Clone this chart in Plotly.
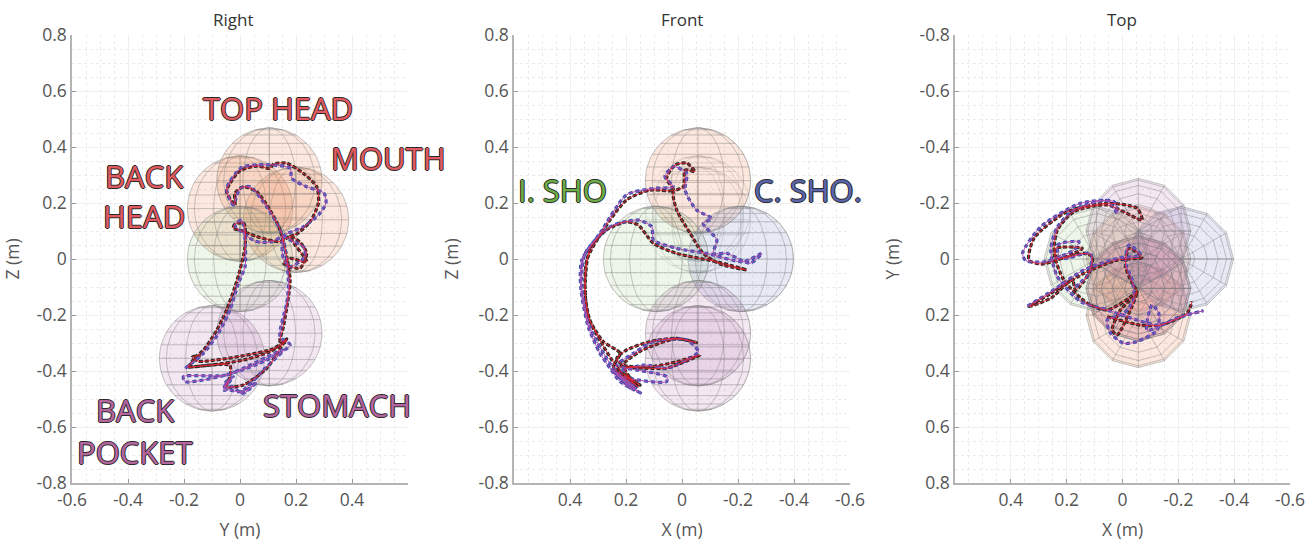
import numpy as np
import plotly.graph_objects as go

# ---- tick labels -----------------------------------------------------------
H_TICKS_RIGHT = [-0.6, -0.4, -0.2, 0, 0.2, 0.4]
H_LABELS_RIGHT = ["-0.6", "-0.4", "-0.2", "0", "0.2", "0.4"]
H_TICKS_REV = [0.4, 0.2, 0, -0.2, -0.4, -0.6]
H_LABELS_REV = ["0.4", "0.2", "0", "-0.2", "-0.4", "-0.6"]
V_TICKS = [-0.8, -0.6, -0.4, -0.2, 0, 0.2, 0.4, 0.6, 0.8]
V_LABELS = ["-0.8", "-0.6", "-0.4", "-0.2", "0", "0.2", "0.4", "0.6", "0.8"]

# ---- spheres (centre X, Y, Z in metres, radius) ----------------------------
SPHERE_NAMES = ["back_head", "mouth", "top_head", "i_sho", "c_sho", "back_pocket", "stomach"]
SPHERE_X = [-0.057, -0.057, -0.057, 0.093, -0.21, -0.057, -0.057]
SPHERE_Y = [0.0, 0.2, 0.105, 0.0, 0.0, -0.1, 0.105]
SPHERE_Z = [0.18, 0.14, 0.28, 0.0, 0.0, -0.355, -0.265]
SPHERE_R = 0.188
SPHERE_KIND = ["orange", "orange", "orange", "green", "blue", "purple", "purple"]

# ---- trajectories, Right view (Y, Z) ---------------------------------------
R_BLACK_H = [-0.185,-0.16,-0.13,-0.083,-0.048,-0.018,0.0,0.018,0.014,-0.018,-0.024,0.006,0.06,0.143,
             0.179,0.214,0.238,0.214,0.155,0.179,0.238,0.179,0.202,0.25,0.28,0.274,0.226,0.167,0.119,0.107,0.06,0.0,-0.036,-0.048,
             -0.018,-0.018,0.012,0.06,0.107,0.143,0.167,0.179,0.173,0.155,0.143,0.167,0.107,0.012,-0.107,-0.185,
             -0.036,-0.036,-0.048,0.012,0.095,0.155,0.167,0.12,-0.15,-0.17,-0.14]
R_BLACK_V = [-0.387,-0.351,-0.325,-0.254,-0.182,-0.099,-0.039,0.044,0.127,0.125,0.11,0.101,0.08,0.062,
             0.08,0.06,0.02,-0.033,-0.015,0.002,-0.01,0.08,0.089,0.133,0.199,0.258,0.306,0.342,0.339,0.324,0.332,0.315,0.27,0.24,
             0.193,0.235,0.258,0.24,0.175,0.104,0.008,-0.075,-0.135,-0.242,-0.295,-0.292,-0.331,-0.361,-0.379,-0.387,
             -0.38,-0.42,-0.456,-0.45,-0.391,-0.301,-0.285,-0.32,-0.365,-0.35,-0.345]
R_BLUE_H = [-0.196,-0.131,-0.077,-0.036,-0.006,0.018,0.018,0.006,-0.018,0.054,0.107,0.155,
            0.179,0.226,0.232,0.179,0.155,0.155,0.226,0.28,0.307,0.3,0.238,0.185,0.179,0.119,0.06,0.006,-0.048,
            -0.024,0.0,0.036,0.095,0.149,0.167,0.173,0.167,0.143,0.179,0.095,-0.048,-0.196,-0.202,-0.048,
            0.155,0.095,0.012,-0.006,-0.048,-0.054,-0.024,-0.06,-0.04,-0.055,-0.03,0.01,0.06,0.02,-0.002]
R_BLUE_V = [-0.39,-0.337,-0.265,-0.182,-0.087,-0.027,0.068,0.139,0.121,0.064,0.06,0.08,
            0.068,0.044,0.008,-0.027,0.002,0.08,0.115,0.157,0.199,0.235,0.258,0.288,0.324,0.336,0.336,0.327,0.252,
            0.193,0.252,0.258,0.187,0.092,-0.004,-0.099,-0.158,-0.277,-0.307,-0.361,-0.414,-0.438,-0.42,-0.414,
            -0.325,-0.385,-0.468,-0.474,-0.462,-0.444,-0.42,-0.465,-0.43,-0.47,-0.455,-0.48,-0.44,-0.47,-0.478]

# ---- trajectories, Front view (X, Z) ---------------------------------------
F_BLACK_H = [0.156,0.21,0.245,0.221,0.281,0.329,0.346,0.34,0.281,0.198,0.114,0.031,0.055,0.025,-0.017,-0.046,
             -0.011,-0.005,0.031,0.019,-0.029,-0.076,-0.136,-0.231,-0.124,0.019,0.102,0.156,0.198,0.269,0.329,
             0.346,0.335,0.287,0.233,0.174,0.204,0.138,0.055,-0.064,0.019,0.114,0.21,0.233,0.198,0.114,0.019,-0.052,
             0.02,0.15,0.225,0.15,0.205,0.155]
F_BLACK_V = [-0.456,-0.42,-0.385,-0.337,-0.295,-0.218,-0.123,-0.004,0.104,0.211,0.246,0.246,0.288,0.336,0.342,0.312,
             0.318,0.258,0.24,0.175,0.092,0.02,-0.018,-0.039,-0.01,0.02,0.056,0.121,0.133,0.104,0.038,
             -0.099,-0.206,-0.301,-0.385,-0.444,-0.39,-0.39,-0.39,-0.343,-0.367,-0.385,-0.379,-0.355,-0.325,-0.295,-0.283,-0.299,
             -0.285,-0.33,-0.395,-0.45,-0.41,-0.46]
F_BLUE_H = [0.144,0.221,0.257,0.293,0.335,0.362,0.358,0.293,0.198,0.102,0.031,0.061,0.031,-0.017,-0.011,-0.052,
            -0.106,-0.076,-0.124,-0.112,-0.16,-0.243,-0.285,-0.219,-0.088,0.019,0.102,0.108,0.156,0.257,0.346,
            0.358,0.329,0.257,0.21,0.055,0.055,0.198,0.233,0.174,0.102,-0.017,-0.058,-0.017,0.055,0.138,
            0.23,0.155,0.25,0.165,0.24,0.175]
F_BLUE_V = [-0.48,-0.438,-0.39,-0.337,-0.242,-0.099,-0.004,0.092,0.229,0.252,0.258,0.294,0.33,0.306,0.246,0.175,
            0.145,0.127,0.068,0.02,0.02,-0.015,0.02,-0.01,0.02,0.038,0.068,0.115,0.139,0.115,0.02,
            -0.099,-0.242,-0.373,-0.42,-0.438,-0.42,-0.39,-0.379,-0.337,-0.295,-0.289,-0.331,-0.361,-0.39,-0.379,
            -0.41,-0.475,-0.395,-0.46,-0.405,-0.47]

# ---- trajectories, Top view (X, Y) -----------------------------------------
T_BLACK_H = [0.335,0.257,0.138,0.019,-0.07,-0.023,-0.011,-0.035,-0.052,0.007,0.037,0.019,-0.023,-0.052,-0.023,
             0.055,0.126,0.21,0.245,0.233,0.174,0.055,-0.07,-0.052,0.055,0.198,0.317,0.335,0.287,0.174,0.144,
             0.239,0.233,0.138,0.108,0.12,0.168,0.18,0.257,0.335,None,0.055,-0.064,-0.136,-0.231,-0.249]
T_BLACK_V = [0.17,0.123,0.051,0.004,-0.006,-0.038,0.027,0.087,0.117,0.182,0.254,0.271,0.194,0.117,0.14,
             0.182,0.158,0.075,-0.02,-0.104,-0.169,-0.193,-0.139,-0.181,-0.199,-0.169,-0.074,0.004,0.018,-0.02,-0.038,
             -0.038,-0.002,-0.02,-0.008,0.051,0.111,0.075,0.14,0.17,None,0.206,0.236,0.236,0.194,0.152]
T_BLUE_H = [0.34,0.257,0.138,0.019,-0.064,-0.023,-0.011,-0.035,-0.04,-0.005,0.055,0.043,-0.005,-0.052,-0.124,-0.13,
            -0.106,-0.088,-0.207,-0.29,-0.231,-0.124,-0.052,0.055,0.15,0.233,0.257,0.233,0.174,0.055,0.019,0.031,
            0.15,0.293,0.358,0.346,0.281,0.174,0.156,0.233,0.221,0.114,0.12,0.168]
T_BLUE_V = [0.168,0.117,0.039,-0.002,-0.014,-0.05,0.015,0.075,0.146,0.194,0.218,0.265,0.301,0.295,0.254,0.194,
            0.164,0.254,0.206,0.185,0.2,0.236,0.218,0.182,0.152,0.063,-0.032,-0.115,-0.175,-0.208,-0.163,-0.205,
            -0.199,-0.115,-0.02,0.006,0.01,-0.032,-0.062,-0.05,-0.002,-0.02,0.051,0.099]

# ---- labels ----------------------------------------------------------------
LABELS_RIGHT = [("TOP HEAD", 0.134, 0.539, "#e05a5f"), ("MOUTH", 0.532, 0.361, "#e05a5f"),
                ("BACK", -0.343, 0.296, "#e05a5f"), ("HEAD", -0.343, 0.154, "#e05a5f"),
                ("BACK", -0.375, -0.54, "#b5659f"), ("POCKET", -0.375, -0.69, "#b5659f"),
                ("STOMACH", 0.348, -0.521, "#b5659f")]
LABELS_FRONT = [("I. SHO", 0.427, 0.246, "#6cae46"), ("C. SHO.", -0.45, 0.246, "#5a65ad")]

FILLS = {"orange": "rgba(240,140,90,0.2)", "green": "rgba(140,190,110,0.15)",
         "blue": "rgba(110,125,195,0.17)", "purple": "rgba(185,115,180,0.17)"}
WIRE = "rgba(130,130,130,0.27)"
WIRE_FAINT = "rgba(130,130,130,0.16)"
TEXT_FONT = "Open Sans"
SHADOW = "1px 0 0 #2a2a2a,-1px 0 0 #2a2a2a,0 1px 0 #2a2a2a,0 -1px 0 #2a2a2a"

PANELS = [
    dict(name="Right", xa="x", ya="y", xt="Y (m)", yt="Z (m)", dom=[72, 408], rng=[-0.6, 0.6], vr=[-0.8, 0.8],
         tc=233, ht=H_TICKS_RIGHT, hl=H_LABELS_RIGHT, axes=(1, 2), data=(R_BLACK_H, R_BLACK_V, R_BLUE_H, R_BLUE_V),
         hide=["c_sho"], wire_only=[], labels=LABELS_RIGHT),
    dict(name="Front", xa="x2", ya="y2", xt="X (m)", yt="Z (m)", dom=[514, 850], rng=[0.6, -0.6], vr=[-0.8, 0.8],
         tc=682, ht=H_TICKS_REV, hl=H_LABELS_REV, axes=(0, 2), data=(F_BLACK_H, F_BLACK_V, F_BLUE_H, F_BLUE_V),
         hide=[], wire_only=["back_head", "mouth"], labels=LABELS_FRONT),
    dict(name="Top", xa="x3", ya="y3", xt="X (m)", yt="Y (m)", dom=[955, 1290], rng=[0.6, -0.6], vr=[0.8, -0.8],
         tc=1122, ht=H_TICKS_REV, hl=H_LABELS_REV, axes=(0, 1), data=(T_BLACK_H, T_BLACK_V, T_BLUE_H, T_BLUE_V),
         hide=[], wire_only=[], labels=[]),
]

N = 12


def sphere_lines(c, r, axes):
    """Wire lines of a 12-face unit sphere projected on the two chosen axes."""
    th = np.linspace(-np.pi, np.pi, N + 1)
    ph = np.linspace(-np.pi / 2, np.pi / 2, N + 1)
    fine_th = np.linspace(-np.pi, np.pi, 49)
    fine_ph = np.linspace(-np.pi / 2, np.pi / 2, 49)
    around = th if axes == (0, 1) else fine_th
    segs = []
    for p in ph:
        segs.append(np.array([np.cos(p) * np.cos(around), np.cos(p) * np.sin(around), np.sin(p) * np.ones_like(around)]))
    for t in th:
        segs.append(np.array([np.cos(fine_ph) * np.cos(t), np.cos(fine_ph) * np.sin(t), np.sin(fine_ph)]))
    hs, vs = [], []
    for s in segs:
        hs += list(c[axes[0]] + r * s[axes[0]]) + [None]
        vs += list(c[axes[1]] + r * s[axes[1]]) + [None]
    return hs, vs


def outline(c, r, axes):
    t = np.linspace(-np.pi, np.pi, N + 1 if axes == (0, 1) else 73)
    return c[axes[0]] + r * np.cos(t), c[axes[1]] + r * np.sin(t)


fig = go.Figure()
annots = []
layout = {}
W, H = 1314, 541
for i, p in enumerate(PANELS):
    suf = "" if i == 0 else str(i + 1)
    for name, sx, sy, sz, kind in zip(SPHERE_NAMES, SPHERE_X, SPHERE_Y, SPHERE_Z, SPHERE_KIND):
        if name in p["hide"]:
            continue
        c = (sx, sy, sz)
        ox, oy = outline(c, SPHERE_R, p["axes"])
        if name not in p["wire_only"]:
            fig.add_trace(go.Scatter(x=ox, y=oy, xaxis=p["xa"], yaxis=p["ya"], mode="lines", fill="toself",
                                     fillcolor=FILLS[kind], line=dict(color=WIRE, width=1), hoverinfo="skip"))
        hs, vs = sphere_lines(c, SPHERE_R, p["axes"])
        fig.add_trace(go.Scatter(x=hs, y=vs, xaxis=p["xa"], yaxis=p["ya"], mode="lines",
                                 line=dict(color=WIRE if name not in p["wire_only"] else WIRE_FAINT, width=0.9),
                                 hoverinfo="skip"))
    bh, bv, uh, uv = p["data"]
    styles = [(bh, bv, "#2b2b2b", 3.2, "4px,2px"), (uh, uv, "#3f50b0", 3.2, "4px,3px"),
              (uh, uv, "#b04fb0", 1, "solid"), (bh, bv, "#e8202a", 0.9, "solid")]
    for hv, vv, col, w, dash in styles:
        fig.add_trace(go.Scatter(x=hv, y=vv, xaxis=p["xa"], yaxis=p["ya"], mode="lines",
                                 line=dict(color=col, width=w, dash=dash, shape="spline", smoothing=0.7),
                                 hoverinfo="skip"))
    for txt, ax, ay, col in p["labels"]:
        annots.append(dict(text=txt, x=ax, y=ay, xref=p["xa"], yref=p["ya"], showarrow=False,
                           xanchor="center", yanchor="middle",
                           font=dict(family=TEXT_FONT, size=31, color=col, shadow=SHADOW)))
    axis_common = dict(showline=True, linecolor="#b4b4b4", linewidth=1.5, ticks="inside", ticklen=4,
                       tickcolor="#999", zeroline=False, showgrid=True, gridcolor="#f0f0f0", gridwidth=1,
                       automargin=False, tickfont=dict(family=TEXT_FONT, size=17.5, color="#555"),
                       minor=dict(dtick=0.05, showgrid=True, griddash="dot", gridcolor="#ebebeb", gridwidth=1, ticks=""))
    layout["xaxis" + suf] = dict(axis_common, domain=[p["dom"][0] / W, p["dom"][1] / W], range=p["rng"],
                                 anchor="y" + suf, tickvals=p["ht"], ticktext=p["hl"],
                                 title=dict(text=p["xt"], font=dict(family=TEXT_FONT, size=17.5, color="#555")))
    layout["yaxis" + suf] = dict(axis_common, domain=[1 - 483 / H, 1 - 35 / H], range=p["vr"],
                                 anchor="x" + suf, tickvals=V_TICKS, ticktext=V_LABELS,
                                 title=dict(text=p["yt"], font=dict(family=TEXT_FONT, size=17.5, color="#555")))
    annots.append(dict(text=p["name"], x=p["tc"] / W, y=1 - 19 / H, xref="paper", yref="paper",
                       xanchor="center", yanchor="middle", showarrow=False,
                       font=dict(family=TEXT_FONT, size=17, color="#333")))

fig.update_layout(width=W, height=H, margin=dict(l=0, r=0, t=0, b=0), autosize=False, showlegend=False,
                  plot_bgcolor="white", paper_bgcolor="white", annotations=annots, **layout)
fig.write_html("out.html", post_script="document.body.style.margin='0';document.body.style.overflow='hidden';",
               config={"displayModeBar": False})
